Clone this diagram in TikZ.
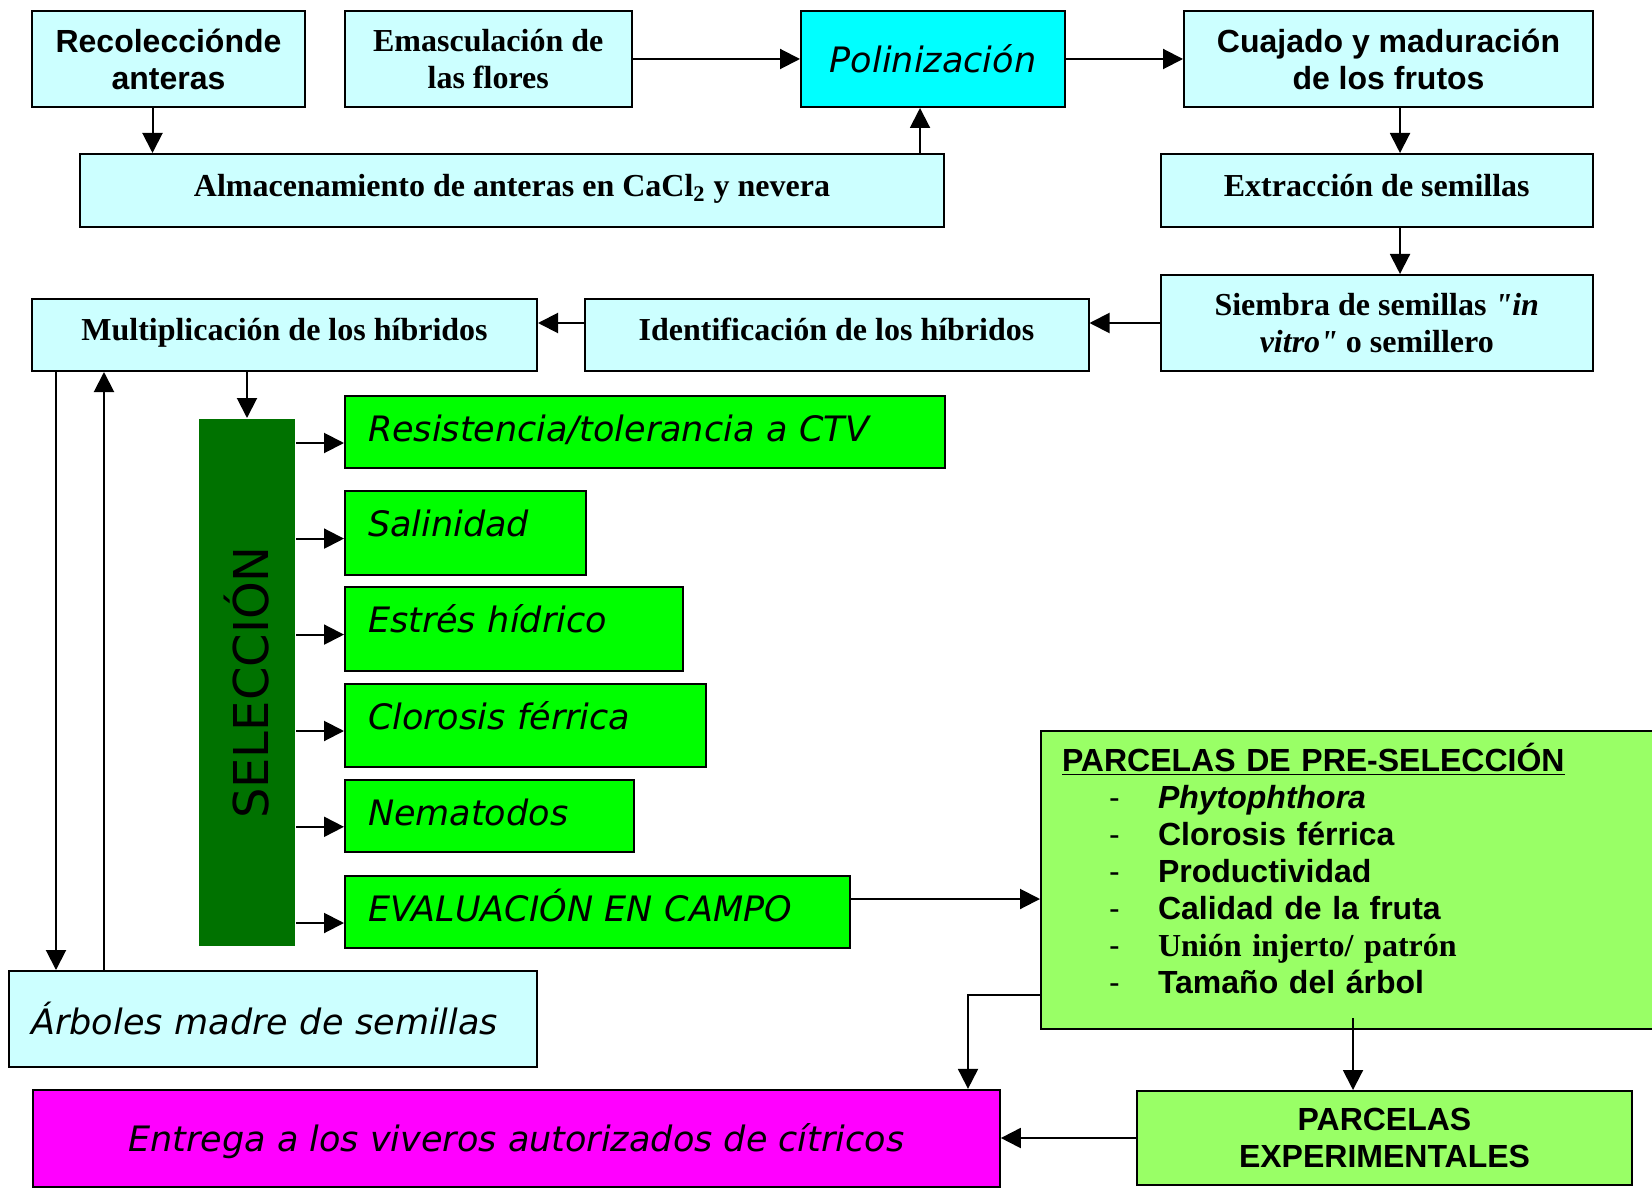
\documentclass[tikz,border=0pt]{standalone}
\usepackage{fontspec}
\usepackage{graphicx}
\setmainfont{Liberation Serif}
\setmonofont{Liberation Serif} % straight quotes, no TeX mapping
\newfontfamily\arialfont{Liberation Sans}
\newfontfamily\verdanafont{DejaVu Sans}
\usetikzlibrary{arrows.meta}
\definecolor{paleblue}{HTML}{CCFFFF}
\definecolor{aquabox}{HTML}{00FFFF}
\definecolor{limebox}{HTML}{00FF00}
\definecolor{selgreen}{HTML}{007200}
\definecolor{parcelgreen}{HTML}{99FF66}
\definecolor{magentabox}{HTML}{FF00FF}

\begin{document}
\begin{tikzpicture}[
        x=0.5pt, y=-0.5pt, % one unit = one pixel of the sketch
        every node/.style={draw, rectangle, line width=1pt, inner sep=0pt, align=center},
        serifbox/.style={fill=paleblue, font=\bfseries\fontsize{16}{18.5}\selectfont},
        lineserif/.style={serifbox, text height=11pt, text depth=5pt},
        sansbox/.style={fill=paleblue, font=\arialfont\bfseries\fontsize{16}{18.5}\selectfont},
        italbox/.style={font=\verdanafont\itshape\fontsize{17.5}{21}\selectfont},
        traitbox/.style={italbox, fill=limebox, anchor=north west, align=left, inner xsep=11.5pt, text height=22.8pt},
        arr/.style={-{Triangle[length=10pt,width=10pt]}, line width=1pt}
    ]
    \useasboundingbox (0,0) rectangle (1652,1192);
    % Top rows
    \node[sansbox, minimum width=136.5pt, minimum height=48pt] (rec) at (168.5,59) {Recolecciónde\\anteras};
    \node[serifbox, minimum width=143.75pt, minimum height=48pt] (ema) at (488.25,59) {Emasculación de\\las flores};
    \node[italbox, fill=aquabox, minimum width=132pt, minimum height=48pt] (pol) at (933,59) {Polinización};
    \node[sansbox, minimum width=204.5pt, minimum height=48pt] (cua) at (1388.5,59) {Cuajado y maduración\\de los frutos};
    \node[lineserif, minimum width=432pt, minimum height=36.5pt] (alm) at (512,190.5) {Almacenamiento de anteras en CaCl\textsubscript{2} y nevera};
    \node[lineserif, minimum width=216.25pt, minimum height=36.5pt] (ext) at (1376.75,190.5) {Extracción de semillas};
    \node[serifbox, minimum width=216.25pt, minimum height=48pt] (sie) at (1376.75,323) {Siembra de semillas \textit{{\ttfamily"}in}\\\textit{vitro{\ttfamily"}} o semillero};
    \node[lineserif, minimum width=252pt, minimum height=36pt] (ide) at (836.5,335) {Identificación de los híbridos};
    \node[lineserif, minimum width=252.5pt, minimum height=36pt] (mul) at (284.5,335) {Multiplicación de los híbridos};

    % Selection bar and traits
    \node[draw=none, fill=selgreen, minimum width=48pt, minimum height=263.5pt,
          font=\verdanafont\fontsize{24}{28}\selectfont] (sel) at (247,682.5) {\rotatebox{90}{SELECCIÓN}};
    \node[traitbox, text width=277pt, text depth=13.2pt] (res) at (344,395) {Resistencia/tolerancia a CTV};
    \node[traitbox, text width=97.5pt, text depth=19.2pt] (sal) at (344,490) {Salinidad};
    \node[traitbox, text width=145.75pt, text depth=19.2pt] (est) at (344,586) {Estrés hídrico};
    \node[traitbox, text width=157.5pt, text depth=18.45pt] (clo) at (344,683) {Clorosis férrica};
    \node[traitbox, text width=121.5pt, text depth=13.2pt] (nem) at (344,779) {Nematodos};
    \node[traitbox, text width=229.5pt, text depth=13.2pt] (eva) at (344,875) {EVALUACIÓN EN CAMPO};

    % Bottom part
    \node[italbox, fill=paleblue, anchor=north west, align=left, inner xsep=11pt,
          text width=241.8pt, minimum height=48pt] (arb) at (8.4,970) {Árboles madre de semillas};
    \node[italbox, fill=magentabox, minimum width=483.5pt, minimum height=48.5pt,
          text height=15pt, text depth=2pt] (ent) at (516.35,1138.35) {Entrega a los viveros autorizados de cítricos};
    \node[fill=parcelgreen, anchor=north west, align=left, inner xsep=10.5pt, text width=309pt,
          text height=20.25pt, text depth=128.75pt,
          font=\arialfont\bfseries\fontsize{16}{18.5}\selectfont] (pre) at (1040,730) {%
        \underline{PARCELAS DE PRE-SELECCIÓN}\\
        \hspace*{23.5pt}\makebox[24.5pt][l]{\mdseries -}\textit{Phytophthora}\\
        \hspace*{23.5pt}\makebox[24.5pt][l]{\mdseries -}Clorosis férrica\\
        \hspace*{23.5pt}\makebox[24.5pt][l]{\mdseries -}Productividad\\
        \hspace*{23.5pt}\makebox[24.5pt][l]{\mdseries -}Calidad de la fruta\\
        \hspace*{23.5pt}\makebox[24.5pt][l]{\mdseries -}{\rmfamily Unión injerto/ patrón}\\
        \hspace*{23.5pt}\makebox[24.5pt][l]{\mdseries -}Tamaño del árbol};
    \node[fill=parcelgreen, minimum width=247.5pt, minimum height=47pt,
          font=\arialfont\bfseries\fontsize{16}{18.5}\selectfont] (exp) at (1384.5,1138) {PARCELAS\\EXPERIMENTALES};
    \coordinate (preout) at (1353,1018);

    % Connectors
    \draw[arr] (rec.south -| 152.5,0) -- (alm.north -| 152.5,0);
    \draw[arr] (alm.north -| 920,0) -- (pol.south -| 920,0);
    \draw[arr] (ema.east) -- (pol.west);
    \draw[arr] (pol.east) -- (cua.west);
    \draw[arr] (cua.south -| 1400,0) -- (ext.north -| 1400,0);
    \draw[arr] (ext.south -| 1400,0) -- (sie.north -| 1400,0);
    \draw[arr] (sie.west) -- (ide.east |- sie.west);
    \draw[arr] (ide.west |- sie.west) -- (mul.east |- sie.west);
    \draw[arr] (mul.south -| sel.north) -- (sel.north);
    \draw[arr] (mul.south -| 56,0) -- (arb.north -| 56,0);
    \draw[arr] (arb.north -| 104,0) -- (mul.south -| 104,0);
    \foreach \t/\y in {res/443, sal/538.6, est/634.6, clo/731, nem/826.8, eva/923}
        \draw[arr] (sel.east |- 0,\y) -- (\t.west |- 0,\y);
    \draw[arr] (eva.east |- 0,899) -- (pre.west |- 0,899);
    \draw[arr] (pre.west |- 0,995) -| (ent.north -| 968,0);
    \draw[arr] (preout) -- (exp.north -| preout);
    \draw[arr] (exp.west) -- (ent.east |- exp.west);
\end{tikzpicture}
\end{document}
